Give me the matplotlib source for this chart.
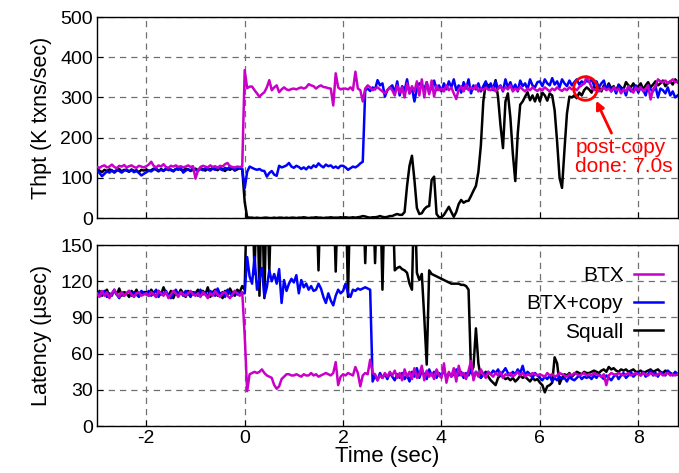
import numpy as np
import matplotlib
matplotlib.use("Agg")
from matplotlib import pyplot as plt

plt.rcParams['font.family'] = ['Liberation Sans', 'DejaVu Sans']
plt.rcParams['axes.unicode_minus'] = False

# time axis: -3.0 .. 8.8 sec, one sample every 50 ms
t = np.round(np.arange(237) * 0.05 - 3.0, 2)

# throughput (K txns/sec), one row per second
btx_thpt = [
    127, 125, 129, 131, 126, 128, 133, 127, 124, 130, 128, 132, 126, 129, 131, 127, 125, 130, 128, 126,
    129, 133, 140, 130, 126, 131, 128, 134, 127, 125, 130, 128, 131, 127, 129, 126, 128, 131, 127, 129,
    98, 118, 127, 130, 128, 126, 131, 127, 129, 125, 130, 128, 134, 137, 129, 127, 126, 128, 127, 128,
    368, 323, 327, 327, 318, 310, 302, 308, 313, 325, 343, 318, 325, 330, 313, 320, 325, 320, 318, 321,
    322, 320, 323, 325, 322, 325, 333, 330, 328, 322, 327, 330, 326, 325, 323, 322, 280, 360, 325, 320,
    322, 322, 320, 325, 318, 364, 322, 318, 290, 322, 330, 325, 318, 322, 325, 320, 315, 310, 318, 325,
    318, 305, 330, 312, 325, 300, 335, 310, 328, 315, 340, 305, 345, 300, 338, 308, 342, 302, 330, 318,
    322, 315, 330, 318, 325, 310, 296, 320, 328, 315, 332, 318, 325, 320, 330, 315, 322, 318, 325, 320,
    318, 325, 315, 322, 328, 318, 325, 320, 330, 315, 322, 318, 326, 320, 315, 322, 318, 325, 320, 316,
    322, 318, 325, 320, 315, 322, 318, 325, 320, 316, 322, 318, 325, 320, 322, 318, 326, 330, 335, 352,
    340, 325, 318, 322, 315, 320, 325, 318, 322, 315, 325, 318, 322, 310, 320, 315, 328, 320, 312, 325,
    318, 325, 315, 322, 330, 295, 320, 328, 345, 340, 338, 342, 335, 340, 345, 338, 340,
]
copy_thpt = [
    118, 112, 104, 110, 116, 113, 118, 115, 120, 117, 113, 118, 121, 116, 119, 114, 117, 112, 106, 110,
    114, 118, 116, 121, 123, 118, 120, 117, 124, 119, 121, 116, 122, 120, 125, 113, 118, 121, 119, 123,
    120, 117, 122, 119, 124, 121, 118, 123, 120, 126, 122, 119, 125, 121, 128, 123, 120, 126, 123, 122,
    74, 115, 128, 125, 122, 120, 122, 118, 117, 103, 112, 117, 108, 105, 130, 126, 128, 131, 137, 128,
    125, 130, 127, 122, 126, 121, 128, 124, 131, 127, 136, 130, 126, 133, 129, 131, 125, 128, 124, 130,
    130, 126, 120, 124, 128, 126, 130, 136, 140, 318, 322, 316, 325, 320, 343, 330, 335, 302, 318, 325,
    330, 312, 340, 305, 328, 318, 345, 310, 325, 290, 322, 335, 330, 320, 338, 312, 325, 342, 318, 330,
    315, 335, 320, 340, 325, 345, 318, 330, 312, 338, 322, 345, 310, 330, 320, 335, 315, 328, 340, 320,
    335, 318, 340, 322, 330, 315, 345, 325, 338, 320, 332, 315, 342, 328, 335, 320, 345, 330, 325, 338,
    340, 328, 345, 335, 330, 348, 332, 340, 325, 345, 335, 328, 342, 330, 338, 345, 332, 340, 335, 342,
    338, 345, 330, 340, 325, 335, 342, 320, 330, 315, 325, 310, 330, 318, 322, 305, 328, 315, 320, 330,
    312, 325, 318, 305, 330, 320, 315, 328, 300, 322, 318, 310, 325, 305, 315, 300, 305,
]
squall_thpt = [
    122, 118, 114, 120, 117, 121, 119, 113, 118, 122, 116, 120, 118, 115, 121, 117, 119, 114, 120, 118,
    121, 117, 119, 123, 120, 116, 122, 118, 121, 124, 119, 117, 122, 125, 120, 118, 123, 121, 117, 120,
    123, 119, 125, 121, 118, 124, 120, 126, 122, 119, 125, 121, 117, 123, 120, 124, 118, 121, 125, 122,
    40, 2, 1, 1, 0, 1, 0, 0, 1, 1, 0, 0, 1, 0, 1, 1, 0, 1, 0, 1,
    1, 0, 1, 1, 2, 1, 0, 1, 1, 2, 1, 1, 0, 1, 1, 2, 1, 1, 1, 2,
    1, 2, 1, 1, 2, 1, 2, 3, 5, 4, 2, 1, 2, 2, 3, 5, 3, 2, 3, 5,
    5, 8, 10, 8, 8, 15, 80, 130, 155, 95, 25, 10, 12, 22, 28, 30, 95, 103, 10, 2,
    2, 8, 18, 28, 15, 3, 15, 35, 45, 38, 42, 43, 55, 68, 80, 115, 180, 290, 335, 330,
    330, 320, 343, 300, 230, 174, 290, 310, 250, 160, 92, 210, 282, 290, 302, 313, 293, 305, 290, 308,
    290, 312, 305, 292, 310, 305, 268, 190, 100, 75, 170, 260, 302, 300, 305, 298, 312, 305, 318, 325,
    320, 312, 328, 318, 325, 315, 330, 320, 335, 322, 328, 315, 332, 325, 320, 338, 330, 325, 335, 320,
    328, 335, 320, 330, 338, 325, 332, 340, 330, 335, 342, 328, 335, 340, 332, 345, 338,
]

# latency (usec); values above 150 run off the top of the axes
btx_lat = [
    110, 107, 112, 108, 111, 106, 110, 113, 109, 107, 111, 108, 110, 112, 109, 107, 110, 111, 108, 109,
    110, 108, 111, 109, 107, 112, 110, 108, 111, 106, 109, 112, 110, 107, 111, 109, 108, 110, 112, 109,
    108, 110, 107, 111, 109, 106, 110, 108, 112, 109, 107, 110, 111, 108, 106, 109, 112, 110, 108, 111,
    75, 29, 43, 44, 45, 44, 45, 47, 44, 42, 41, 40, 34, 31, 33, 39, 41, 43, 43, 42,
    42, 43, 42, 41, 43, 42, 42, 44, 42, 43, 41, 42, 43, 44, 43, 42, 44, 53, 34, 41,
    43, 42, 44, 43, 42, 49, 44, 33, 42, 44, 43, 55, 44, 43, 38, 42, 40, 44, 41, 45,
    42, 46, 40, 44, 38, 47, 41, 45, 39, 48, 40, 43, 50, 38, 46, 41, 44, 39, 47, 42,
    40, 52, 36, 45, 41, 48, 37, 50, 42, 44, 39, 46, 54, 38, 45, 41, 47, 43, 40, 45,
    43, 41, 44, 42, 45, 40, 43, 42, 44, 41, 43, 45, 42, 44, 41, 43, 42, 44, 43, 42,
    43, 42, 41, 44, 42, 43, 41, 42, 44, 43, 42, 41, 43, 42, 44, 43, 42, 43, 44, 42,
    43, 42, 44, 43, 42, 41, 43, 34, 42, 44, 43, 42, 44, 43, 42, 43, 44, 42, 43, 44,
    43, 42, 44, 43, 42, 44, 43, 42, 43, 44, 42, 43, 44, 42, 43, 42, 43,
]
copy_lat = [
    108, 111, 109, 112, 107, 110, 108, 113, 109, 106, 111, 108, 110, 112, 108, 111, 109, 107, 112, 110,
    109, 112, 108, 110, 113, 107, 111, 109, 112, 108, 106, 110, 113, 109, 111, 108, 112, 110, 107, 111,
    110, 108, 113, 109, 111, 107, 112, 110, 108, 114, 109, 111, 107, 113, 110, 108, 112, 109, 111, 110,
    110, 140, 124, 118, 140, 113, 122, 131, 107, 115, 129, 120, 126, 118, 130, 102, 121, 112, 118, 122,
    119, 125, 110, 121, 115, 118, 113, 116, 112, 113, 118, 114, 107, 102, 110, 104, 100, 108, 113, 110,
    112, 118, 110, 107, 113, 112, 114, 113, 114, 115, 114, 113, 37, 42, 38, 44, 40, 43, 39, 44,
    41, 38, 43, 40, 44, 39, 42, 37, 45, 41, 48, 40, 46, 43, 39, 47, 42, 45, 40, 44,
    42, 46, 40, 44, 41, 43, 47, 42, 45, 40, 44, 42, 46, 41, 45, 43, 40, 44, 42, 45,
    43, 46, 44, 47, 42, 45, 48, 44, 42, 45, 43, 47, 44, 50, 42, 45, 43, 40, 44, 42,
    40, 38, 41, 39, 42, 37, 40, 38, 41, 39, 40, 37, 41, 39, 38, 40, 42, 39, 41, 40,
    41, 39, 42, 40, 43, 41, 39, 42, 40, 38, 41, 43, 39, 42, 44, 40, 42, 45, 41, 43,
    44, 42, 45, 41, 43, 46, 42, 44, 41, 45, 43, 42, 46, 44, 42, 45, 43,
]
squall_lat = [
    109, 112, 108, 111, 113, 107, 110, 112, 109, 114, 108, 111, 110, 107, 112, 109, 113, 108, 110, 111,
    111, 108, 113, 110, 107, 112, 109, 115, 110, 108, 112, 106, 111, 109, 113, 110, 107, 112, 109, 111,
    110, 113, 108, 112, 109, 115, 107, 111, 113, 108, 110, 106, 112, 109, 114, 110, 108, 113, 111, 116,
    113, 200, 200, 200, 126, 200, 108, 200, 106, 200, 128, 200, 200, 200, 200, 200, 200, 200, 200, 200,
    200, 200, 200, 200, 200, 200, 200, 200, 200, 200, 129, 200, 200, 200, 200, 200, 200, 128, 200, 200,
    200, 200, 107, 200, 200, 200, 200, 200, 200, 135, 200, 200, 200, 135, 200, 200, 113, 200, 200, 200,
    200, 129, 131, 132, 130, 129, 127, 118, 113, 200, 127, 121, 126, 90, 51, 129, 126, 125, 124, 123,
    122, 121, 120, 119, 118, 118, 118, 118, 117, 117, 116, 113, 45, 49, 81, 52, 40, 43, 45, 41,
    38, 36, 34, 40, 42, 41, 39, 40, 38, 40, 37, 39, 42, 40, 41, 39, 37, 40, 38, 39,
    36, 34, 28, 33, 34, 36, 57, 52, 35, 40, 43, 42, 44, 41, 43, 45, 44, 43, 45, 44,
    44, 45, 46, 45, 44, 46, 47, 45, 49, 47, 48, 46, 45, 47, 46, 47, 45, 46, 47, 45,
    45, 46, 44, 45, 46, 47, 45, 46, 47, 45, 44, 46, 45, 44, 43, 44, 43,
]

labels = ['BTX', 'BTX+copy', 'Squall']
colors = ['#c800c8', '#0000ff', '#000000']

fig = plt.figure(figsize=(6.79, 4.73), dpi=100)
ax1 = fig.add_axes([0.143, 0.539, 0.855, 0.425])
ax2 = fig.add_axes([0.143, 0.099, 0.855, 0.383], sharex=ax1)

# draw Squall first so BTX ends up on top
for ax, series in ((ax1, [btx_thpt, copy_thpt, squall_thpt]),
                   (ax2, [btx_lat, copy_lat, squall_lat])):
    for i in (2, 1, 0):
        ax.plot(t, series[i], color=colors[i], lw=1.8, label=labels[i], zorder=2 + (2 - i))
    ax.grid(True, color='#707070', linestyle=(0, (5, 4)), linewidth=0.9)
    ax.tick_params(direction='in', labelsize=14, length=4, pad=3)
    for s in ax.spines.values():
        s.set_linewidth(1.0)

ax1.set_xlim(-3, 8.8)
ax1.set_ylim(0, 500)
ax1.set_yticks([0, 100, 200, 300, 400, 500])
ax1.set_ylabel('Thpt (K txns/sec)', fontsize=15.5, labelpad=6)
ax1.tick_params(labelbottom=False)

ax2.set_ylim(0, 150)
ax2.set_yticks([0, 30, 60, 90, 120, 150])
ax2.set_xticks([-2, 0, 2, 4, 6, 8])
ax2.set_ylabel('Latency (\u00b5sec)', fontsize=15.5, labelpad=6)
ax2.set_xlabel('Time (sec)', fontsize=16, labelpad=-1)

h, l = ax2.get_legend_handles_labels()
order = [l.index(name) for name in labels]
ax2.legend([h[i] for i in order], labels, loc='upper right', bbox_to_anchor=(1.0, 0.965),
           frameon=False, markerfirst=False, fontsize=15, handlelength=1.4,
           labelspacing=0.45, borderaxespad=0.3, handletextpad=0.5)

# post-copy marker
ax1.plot([6.92], [324], marker='o', markersize=17, markerfacecolor='none',
         markeredgecolor='#ff0000', markeredgewidth=2, zorder=6)
ax1.annotate('', xy=(7.12, 298), xytext=(7.48, 205),
             arrowprops=dict(arrowstyle='-|>', color='#ff0000', lw=2, mutation_scale=12))
ax1.text(6.72, 152, 'post-copy\ndone: 7.0s', color='#ff0000', fontsize=15,
         ha='left', va='center', multialignment='left', linespacing=0.95, zorder=7)

fig.savefig('out.png', dpi=100)
